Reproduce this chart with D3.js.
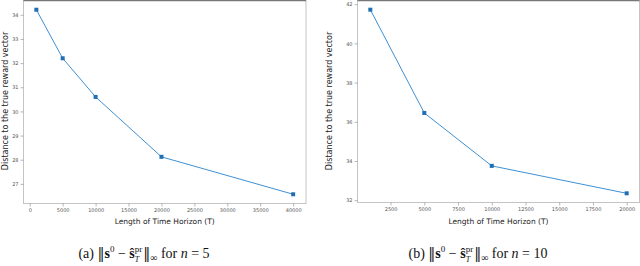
<!DOCTYPE html>
<html>
<head>
<meta charset="utf-8">
<script src="https://cdn.jsdelivr.net/npm/d3@7"></script>
<style>
  body { margin: 0; background: #fff; }
  svg { display: block; }
</style>
</head>
<body>
<div id="chart"></div>
<script>
// data
var horizonA = [1000, 5000, 10000, 20000, 40000];
var distA = [34.21, 32.2, 30.6, 28.12, 26.57];
var xTicksA = [0, 5000, 10000, 15000, 20000, 25000, 30000, 35000, 40000];
var yTicksA = [27, 28, 29, 30, 31, 32, 33, 34];

var horizonB = [1000, 5000, 10000, 20000];
var distB = [41.72, 36.45, 33.75, 32.35];
var xTicksB = [2500, 5000, 7500, 10000, 12500, 15000, 17500, 20000];
var yTicksB = [32, 34, 36, 38, 40, 42];

var width = 640, height = 266;

var svg = d3.select('#chart')
    .append('svg')
    .attr('width', width)
    .attr('height', height);

// caption built from separate pieces so super/subscripts can stack
var drawCaption = function (cx, base, tag, n) {
    var pieces = [
        { t: '(' + tag + ') ', fs: 14 },
        { t: '\u2016', fs: 14, ff: 'DejaVu Serif' },
        { t: 's', fs: 14, fw: 'bold' },
        { t: '0', fs: 9, dy: -6 },
        { t: ' \u2212 ', fs: 14 },
        { t: '\u015D', fs: 14, fw: 'bold' },
        { t: 'pr', fs: 9, dy: -6, stack: 'T' },
        { t: '\u2016', fs: 14, ff: 'DejaVu Serif' },
        { t: '\u221E', fs: 10, dy: 3 },
        { t: ' for ', fs: 14 },
        { t: 'n', fs: 14, fi: 'italic' },
        { t: ' = ' + n, fs: 14 }
    ];
    var g = svg.append('g');
    var xpos = 0;
    var nodes = pieces.map(function (p) {
        var t = g.append('text')
            .attr('x', xpos)
            .attr('y', base + (p.dy || 0))
            .style('font-family', p.ff || 'Liberation Serif')
            .style('font-size', p.fs + 'px')
            .style('font-weight', p.fw || 'normal')
            .style('font-style', p.fi || 'normal')
            .attr('fill', '#111')
            .attr('xml:space', 'preserve')
            .text(p.t);
        var w = t.node().getComputedTextLength();
        if (p.stack) {
            g.append('text')
                .attr('x', xpos)
                .attr('y', base + 4)
                .style('font-family', 'Liberation Serif')
                .style('font-size', '8px')
                .style('font-style', 'italic')
                .attr('fill', '#111')
                .text(p.stack);
        }
        xpos += w + (p.stack ? 1 : 0);
        return t;
    });
    g.attr('transform', 'translate(' + (cx - xpos / 2) + ',0)');
};

var drawPanel = function (opt) {
    var xs = opt.xs, ys = opt.ys;
    var xmin = d3.min(xs), xmax = d3.max(xs);
    var ymin = d3.min(ys), ymax = d3.max(ys);
    var xm = (xmax - xmin) * 0.05, ym = (ymax - ymin) * 0.05;

    var x = d3.scaleLinear()
        .domain([xmin - xm, xmax + xm])
        .range([opt.left, opt.right]);
    var y = d3.scaleLinear()
        .domain([ymin - ym, ymax + ym])
        .range([opt.bottom, opt.top]);

    var g = svg.append('g');

    // frame
    g.append('rect')
        .attr('x', opt.left)
        .attr('y', opt.top)
        .attr('width', opt.right - opt.left)
        .attr('height', opt.bottom - opt.top)
        .attr('fill', 'none')
        .attr('stroke', '#c4c4c4')
        .attr('stroke-width', 1);
    g.append('line')
        .attr('x1', opt.left).attr('x2', opt.right)
        .attr('y1', 0.5).attr('y2', 0.5)
        .attr('stroke', '#777')
        .attr('stroke-width', 1.5);

    var xAxis = d3.axisBottom(x)
        .tickValues(opt.xTicks)
        .tickFormat(d3.format('d'))
        .tickSize(3)
        .tickPadding(2);
    var gx = g.append('g')
        .attr('transform', 'translate(0,' + opt.bottom + ')')
        .call(xAxis);

    var yAxis = d3.axisLeft(y)
        .tickValues(opt.yTicks)
        .tickFormat(d3.format('d'))
        .tickSize(3)
        .tickPadding(2);
    var gy = g.append('g')
        .attr('transform', 'translate(' + opt.left + ',0)')
        .call(yAxis);

    [gx, gy].forEach(function (a) {
        a.select('.domain').remove();
        a.selectAll('.tick line').attr('stroke', '#888').attr('stroke-width', 0.6);
        a.selectAll('.tick text')
            .attr('fill', '#555')
            .style('font-family', 'DejaVu Sans')
            .style('font-size', '5px');
    });

    // series line
    var line = d3.line()
        .x(function (d, i) { return x(xs[i]); })
        .y(function (d) { return y(d); });
    g.append('path')
        .attr('d', line(ys))
        .attr('fill', 'none')
        .attr('stroke', '#4090d2')
        .attr('stroke-width', 1);

    // markers
    g.selectAll('rect.pt')
        .data(ys)
        .enter()
        .append('rect')
        .attr('class', 'pt')
        .attr('x', function (d, i) { return x(xs[i]) - 2; })
        .attr('y', function (d) { return y(d) - 2; })
        .attr('width', 4)
        .attr('height', 4)
        .attr('fill', '#1f6fb4');

    // axis labels
    g.append('text')
        .attr('x', (opt.left + opt.right) / 2)
        .attr('y', 224)
        .attr('text-anchor', 'middle')
        .style('font-family', 'DejaVu Sans')
        .style('font-size', '7.5px')
        .attr('fill', '#222')
        .text('Length of Time Horizon (T)');

    g.append('text')
        .attr('transform', 'translate(' + opt.ylabX + ',101) rotate(-90)')
        .attr('text-anchor', 'middle')
        .style('font-family', 'DejaVu Sans')
        .style('font-size', '8px')
        .attr('fill', '#222')
        .text('Distance to the true reward vector');

    drawCaption(opt.capX, 258, opt.tag, opt.n);
};

drawPanel({
    xs: horizonA, ys: distA, xTicks: xTicksA, yTicks: yTicksA,
    left: 23.5, right: 306, top: 0.5, bottom: 203.5,
    ylabX: 8, capX: 144, tag: 'a', n: 5
});

drawPanel({
    xs: horizonB, ys: distB, xTicks: xTicksB, yTicks: yTicksB,
    left: 357.5, right: 639.5, top: 0.5, bottom: 202.5,
    ylabX: 332, capX: 478, tag: 'b', n: 10
});
</script>
</body>
</html>
